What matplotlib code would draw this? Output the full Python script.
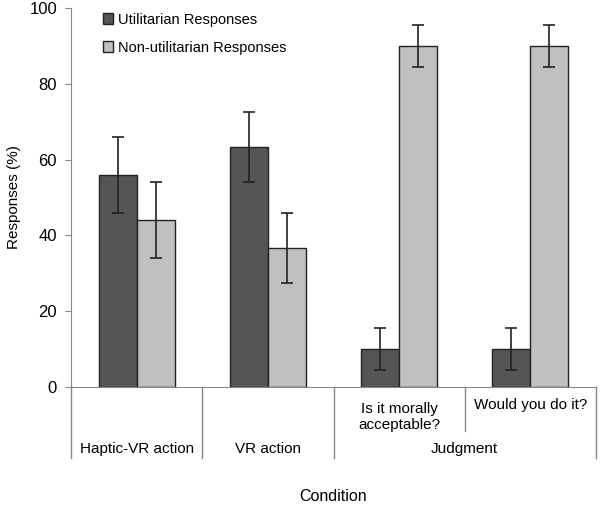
import numpy as np
import matplotlib.pyplot as plt
from matplotlib.patches import Patch
import matplotlib.transforms as mtransforms

plt.rcParams['font.family'] = ['Liberation Sans Narrow', 'Liberation Sans', 'DejaVu Sans']

# Datos
conditions = ['Haptic-VR action', 'VR action', 'Is it morally\nacceptable?', 'Would you do it?']
groups = ['Haptic-VR action', 'VR action', 'Judgment']
series_names = ['Utilitarian Responses', 'Non-utilitarian Responses']
utilitarian = [56.0, 63.3, 10.0, 10.0]
utilitarian_err = [10.0, 9.3, 5.5, 5.5]
non_utilitarian = [44.0, 36.7, 90.0, 90.0]
non_utilitarian_err = [10.0, 9.3, 5.5, 5.5]
yticks = [0, 20, 40, 60, 80, 100]

fig = plt.figure(figsize=(6.0, 5.09), dpi=100)
ax = fig.add_axes([71/600, 1 - 387/509, (596 - 71)/600, (387 - 8)/509])

x = np.arange(len(conditions))
w = 0.29
err_kw = dict(ecolor='#222222', elinewidth=1.2, capsize=4, capthick=1.2)
ax.bar(x - w/2, utilitarian, w, yerr=utilitarian_err, color='#555555',
       edgecolor='#222222', linewidth=1.0, error_kw=err_kw)
ax.bar(x + w/2, non_utilitarian, w, yerr=non_utilitarian_err, color='#c0c0c0',
       edgecolor='#222222', linewidth=1.0, error_kw=err_kw)

ax.set_xlim(-0.5, len(conditions) - 0.5)
ax.set_ylim(0, 100)
ax.set_yticks(yticks)
ax.tick_params(axis='y', direction='out', length=4, color='#888888', labelsize=12, pad=6)
ax.set_xticks([])
for s in ['top', 'right']:
    ax.spines[s].set_visible(False)
for s in ['left', 'bottom']:
    ax.spines[s].set_color('#888888')
ax.set_ylabel('Responses (%)', fontsize=11, labelpad=6)

# Etiquetas jerárquicas del eje x
trans = mtransforms.blended_transform_factory(ax.transData, ax.transAxes)
line_kw = dict(color='#888888', lw=1.0, transform=trans, clip_on=False)
for xv in [-0.5, 0.5, 1.5, 3.5]:
    ax.plot([xv, xv], [0, -0.187], **line_kw)
ax.plot([2.5, 2.5], [0, -0.116], **line_kw)

ax.text(2, -0.079, conditions[2], ha='center', va='center', fontsize=11,
        transform=trans, linespacing=1.15)
ax.text(3, -0.0475, conditions[3], ha='center', va='center', fontsize=11, transform=trans)
group_pos = [0, 1, 2.5]
for gx, g in zip(group_pos, groups):
    ax.text(gx, -0.164, g, ha='center', va='center', fontsize=11, transform=trans)
ax.text(1.5, -0.29, 'Condition', ha='center', va='center', fontsize=11.5, transform=trans)

handles = [Patch(facecolor='#555555', edgecolor='#222222'),
           Patch(facecolor='#c0c0c0', edgecolor='#222222')]
ax.legend(handles, series_names, loc='upper left', bbox_to_anchor=(0.035, 1.022),
          frameon=False, fontsize=10.5, handlelength=0.75, handleheight=0.75,
          handletextpad=0.3, labelspacing=0.95)

fig.savefig('out.png', dpi=100)
